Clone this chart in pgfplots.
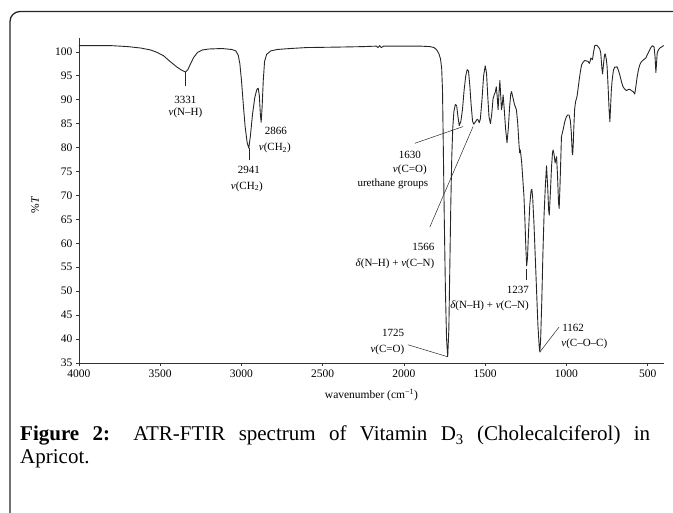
\documentclass[border=0pt]{standalone}
\usepackage{fontspec}
\setmainfont{Liberation Serif}
\usepackage{pgfplots}
\pgfplotsset{compat=1.18}

\newcommand{\annfont}{\fontsize{11}{12.5}\selectfont}
\newcommand{\nuu}{{\itshape ν}}

\begin{document}
\begin{tikzpicture}[x=1pt,y=1pt]
\useasboundingbox (0,0) rectangle (673,513);
\begin{scope}
\clip (0,0) rectangle (673,513);
\draw[line width=1.3pt, black!85, rounded corners=10pt] (10,-20) -- (10,501.5) -- (700,501.5);
\end{scope}

\begin{axis}[
    at={(79pt,150pt)}, anchor=south west,
    scale only axis, width=585pt, height=325pt,
    xmin=400, xmax=4000, x dir=reverse,
    ymin=35, ymax=102.9,
    axis x line*=bottom, axis y line*=left,
    axis line style={-, line width=0.8pt, black!80},
    xtick={500,1000,...,4000}, ytick={35,40,...,100},
    tick align=outside, major tick length=3pt,
    tick style={line width=0.6pt, black!80},
    tick label style={font=\fontsize{11.5}{13}\selectfont},
    /pgf/number format/assume math mode=true,
    xticklabel style={/pgf/number format/1000 sep={}},
    scaled ticks=false,
    xlabel={wavenumber (cm\textsuperscript{−1})},
    ylabel={\%\textit{T}},
    label style={font=\fontsize{11.5}{13}\selectfont},
    xlabel style={at={(axis description cs:0.5,-0.098)}, anchor=center},
    ylabel style={at={(axis description cs:-0.075,0.486)}, anchor=center},
    clip=false,
]
\addplot[line width=0.9pt, black!85, line join=round] coordinates {
(4000,101.3) (3900,101.3) (3800,101.3) (3700,101.1) (3620,100.8) (3560,100.4)
(3520,99.9) (3480,99.2) (3440,98.0) (3400,96.9) (3370,96.2) (3345,95.8)
(3330,96.3) (3315,97.4) (3295,98.8) (3270,99.9) (3240,100.4) (3200,100.6)
(3120,100.7) (3060,100.5) (3035,100.2) (3020,99.3) (3010,97.5) (3000,94.0)
(2990,89.5) (2978,84.5) (2965,81.0) (2955,79.9) (2945,82.5) (2932,87.0)
(2918,90.5) (2905,92.2) (2897,92.4) (2890,90.8) (2884,87.0) (2879,85.3)
(2873,88.5) (2866,94.0) (2858,98.0) (2845,99.5) (2820,100.2) (2780,100.5)
(2700,100.7) (2600,100.9) (2400,101.0) (2250,101.1) (2170,101.2) (2160,100.9)
(2150,101.3) (2140,100.9) (2125,101.2) (2000,101.2) (1900,101.2) (1840,101.1)
(1815,100.9) (1798,100.4) (1785,99.6) (1775,98.5) (1768,96.5) (1763,92)
(1758,80) (1752,65) (1745,50) (1738,40) (1731,36.3) (1724,42)
(1718,55) (1712,68) (1706,78) (1700,84) (1693,87.5) (1684,89.0)
(1676,88.8) (1668,86.5) (1660,84.6) (1650,85.5) (1640,88) (1630,92)
(1620,95) (1611,96.3) (1603,96.0) (1595,93) (1587,89) (1578,85.5)
(1570,84.9) (1560,85.4) (1550,85.9) (1544,85.8) (1537,85.2) (1530,86)
(1520,90) (1510,95) (1500,97.1) (1492,95.5) (1485,91) (1477,86.5)
(1468,85) (1460,87) (1452,90.2) (1445,91) (1438,91.6) (1432,92.7)
(1426,90.5) (1421,87.9) (1416,91) (1410,94.0) (1405,91) (1400,87.9)
(1395,89) (1390,91) (1383,88) (1375,84) (1366,81) (1358,84)
(1350,88.5) (1343,91.2) (1338,91.7) (1330,90.5) (1320,89) (1308,87.9)
(1300,85) (1292,80.5) (1288,78.9) (1284,79.5) (1276,77) (1268,73)
(1262,70) (1256,65) (1250,59) (1245,55.3) (1240,57) (1234,62)
(1226,68) (1218,71.0) (1213,71.3) (1208,69.5) (1200,64) (1192,57)
(1184,50) (1176,43) (1168,38.5) (1164,37.3) (1159,40) (1152,48)
(1145,58) (1138,66) (1130,72) (1123,76.2) (1116,72) (1110,67)
(1106,65.9) (1100,70) (1092,76) (1086,79) (1082,79.5) (1076,78.5)
(1070,76.8) (1065,77.5) (1061,78.1) (1055,74) (1049,68.5) (1045,67.3)
(1040,72) (1031,82.3) (1021,83.7) (1010,85.5) (1000,86.5) (993,86.8)
(984,86.8) (976,85.6) (970,83) (965,79) (962,78.5) (958,81)
(955,84) (950,88) (944,89.6) (935,90.7) (928,92.5) (922,94.1)
(914,96) (907,97.3) (897,97.9) (887,98.2) (877,98.1) (867,98.0)
(860,97.6) (855,98.0) (850,98.7) (845,98.5) (840,98.4) (833,100)
(826,101.3) (815,101.4) (806,101.1) (795,100.6) (789,99.7) (782,96.5)
(778,95.4) (772,97.5) (766,99.3) (762,99.6) (755,98.5) (750,96.9)
(743,92) (738,88) (733,85.4) (728,89) (724,92) (719,94.1)
(711,96.2) (703,96.8) (695,96.8) (689,96.9) (680,96.1) (672,95.2)
(662,93.8) (652,92.7) (641,92.2) (631,91.9) (622,92.1) (611,92.2)
(600,91.9) (590,91.7) (580,91.2) (572,93) (565,94.8) (557,96.3)
(549,97.3) (540,97.9) (528,98.3) (512,98.7) (500,99.6) (488,100.4)
(479,101.0) (471,101.3) (461,101.0) (455,99) (450,95.7) (446,97.5)
(442,99.7) (436,100.3) (430,100.6) (422,100.9) (415,101.0) (408,101.2)
(401,101.3)
};

% annotations
\draw[line width=0.6pt, black!85] (axis cs:3345,95.8) -- (axis cs:3345,92.8);
\node[font=\annfont, anchor=base] at (axis cs:3345,89.3) {3331};
\node[font=\annfont, anchor=base] at (axis cs:3345,86.8) {\nuu(N–H)};

\draw[line width=0.6pt, black!85] (axis cs:2955,79.9) -- (axis cs:2955,77.4);
\node[font=\annfont, anchor=base] at (axis cs:2955,74.5) {2941};
\node[font=\annfont, anchor=base] at (axis cs:2967,71.3) {\nuu(CH\textsubscript{2})};

\node[font=\annfont, anchor=base] at (axis cs:2789,82.7) {2866};
\node[font=\annfont, anchor=base] at (axis cs:2795,79.4) {\nuu(CH\textsubscript{2})};

\draw[line width=0.5pt, black!85] (axis cs:1933,80.9) -- (axis cs:1636,84.4);
\node[font=\annfont, anchor=base] at (axis cs:1964,77.8) {1630};
\node[font=\annfont, anchor=base] at (axis cs:1964,74.8) {\nuu(C=O)};
\node[font=\annfont, anchor=base] at (axis cs:2069,71.8) {urethane groups};

\draw[line width=0.5pt, black!85] (axis cs:1841,63.4) -- (axis cs:1575,84.4);
\node[font=\annfont, anchor=base east] at (axis cs:1792,58.4) {1566};
\node[font=\annfont, anchor=base east] at (axis cs:1792,55.2) {{\itshape δ}(N–H) + \nuu(C–N)};

\draw[line width=0.6pt, black!85] (axis cs:1248,54.6) -- (axis cs:1248,52.4);
\node[font=\annfont, anchor=base east] at (axis cs:1210,49.6) {1237};
\node[font=\annfont, anchor=base east] at (axis cs:1210,46.4) {{\itshape δ}(N–H) + \nuu(C–N)};

\draw[line width=0.5pt, black!85] (axis cs:1975,38.8) -- (axis cs:1731,36.3);
\node[font=\annfont, anchor=base east] at (axis cs:1977,40.6) {1725};
\node[font=\annfont, anchor=base east] at (axis cs:1977,37.2) {\nuu(C=O)};

\draw[line width=0.5pt, black!85] (axis cs:1046,42.5) -- (axis cs:1164,37.3);
\node[font=\annfont, anchor=base west] at (axis cs:1047,41.5) {1162};
\node[font=\annfont, anchor=base west] at (axis cs:1053,38.5) {\nuu(C–O–C)};
\end{axis}

\node[anchor=north west, inner sep=0pt, text width=630pt, align=justify,
      font=\fontsize{21}{23}\selectfont] at (20,87)
  {\textbf{Figure 2:} ATR-FTIR spectrum of Vitamin D\textsubscript{3} (Cholecalciferol) in\linebreak Apricot.};
\end{tikzpicture}
\end{document}
